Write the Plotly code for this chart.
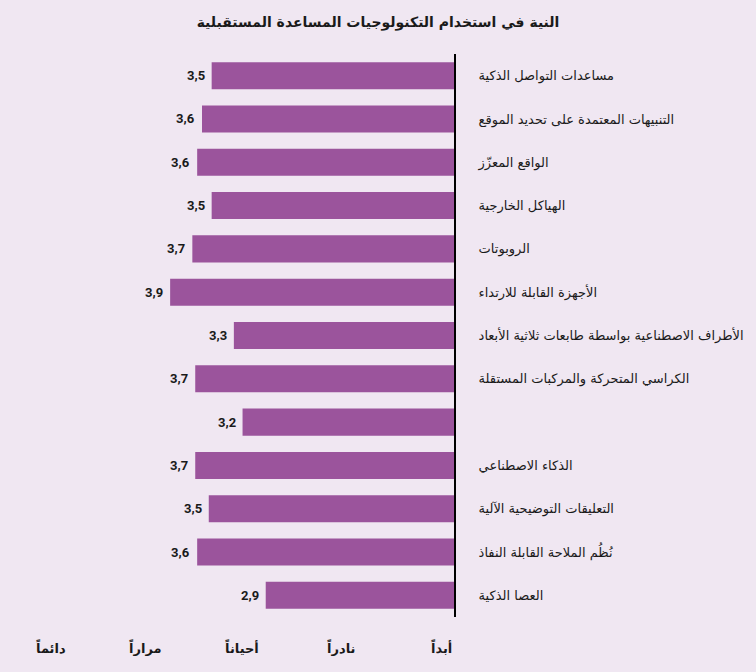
import plotly.graph_objects as go

title = "النية في استخدام التكنولوجيات المساعدة المستقبلية"
categories = [
    "مساعدات التواصل الذكية",
    "التنبيهات المعتمدة على تحديد الموقع",
    "الواقع المعزّز",
    "الهياكل الخارجية",
    "الروبوتات",
    "الأجهزة القابلة للارتداء",
    "الأطراف الاصطناعية بواسطة طابعات ثلاثية الأبعاد",
    "الكراسي المتحركة والمركبات المستقلة",
    "",
    "الذكاء الاصطناعي",
    "التعليقات التوضيحية الآلية",
    "نُظُم الملاحة القابلة النفاذ",
    "العصا الذكية",
]
values = [3.51, 3.61, 3.66, 3.51, 3.71, 3.94, 3.28, 3.68, 3.19, 3.68, 3.54, 3.66, 2.95]
value_labels = ["3,5", "3,6", "3,6", "3,5", "3,7", "3,9", "3,3", "3,7", "3,2", "3,7", "3,5", "3,6", "2,9"]
scale_vals = [1, 2, 3, 4, 5]
scale_labels = ["أبداً", "نادراً", "أحياناً", "مراراً", "دائماً"]

BG = "#f0e7f2"
BAR = "#9b549c"
FONT = "DejaVu Sans"

idx = list(range(len(categories)))

fig = go.Figure()
fig.add_trace(go.Bar(
    x=[v - 1 for v in values],
    base=1,
    y=idx,
    orientation="h",
    marker=dict(color=BAR, line=dict(width=0)),
    hoverinfo="skip",
))

for i, (v, lab) in enumerate(zip(values, value_labels)):
    fig.add_annotation(
        x=v, y=i, xref="x", yref="y",
        text="<b>" + lab + "</b>", showarrow=False,
        xanchor="right", yanchor="middle", xshift=-5,
        font=dict(family="Liberation Sans Narrow, Roboto", size=13, color="#1a1a1a"),
    )

for v, lab in zip(scale_vals, scale_labels):
    fig.add_annotation(
        x=v, y=-0.055, xref="x", yref="paper",
        text="<b>" + lab + "</b>", showarrow=False,
        xanchor="right", yanchor="middle",
        font=dict(family=FONT, size=13, color="#1a1a1a"),
    )

fig.update_layout(
    width=756, height=672,
    paper_bgcolor=BG, plot_bgcolor=BG,
    margin=dict(l=20, r=300, t=54, b=55),
    showlegend=False,
    bargap=0.376,
    title=dict(
        text="<b>" + title + "</b>",
        x=0.5, xanchor="center", xref="container",
        y=1 - 22 / 672, yanchor="middle", yref="container",
        font=dict(family=FONT, size=14, color="#1a1a1a"),
    ),
    xaxis=dict(
        range=[5.495, 1], showgrid=False, zeroline=False,
        showticklabels=False, showline=False, fixedrange=True,
    ),
    yaxis=dict(
        range=[12.5, -0.5], side="right",
        tickvals=idx, ticktext=categories,
        showgrid=False, zeroline=False,
        showline=True, linecolor="#000000", linewidth=2,
        ticks="", ticklabelstandoff=20,
        tickfont=dict(family=FONT, size=13, color="#1a1a1a"),
    ),
)

fig.write_html("out.html")
